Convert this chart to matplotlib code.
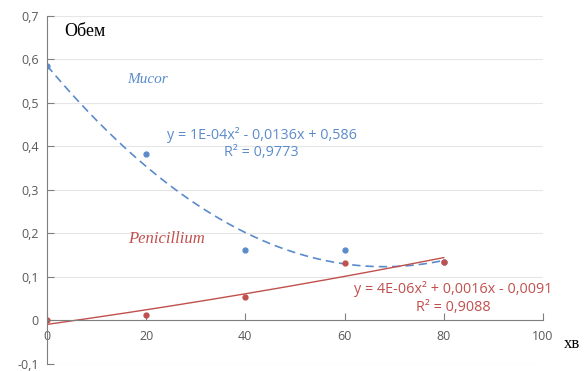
import numpy as np
import matplotlib.pyplot as plt

# measured points
time_min = [0, 20, 40, 60, 80]
mucor = [0.585, 0.382, 0.162, 0.162, 0.135]
penicillium = [0.002, 0.013, 0.053, 0.133, 0.135]

# trendline coefficients as shown on the chart (a, b, c)
mucor_fit = [1e-4, -0.0136, 0.586]
penicillium_fit = [4e-6, 0.0016, -0.0091]

x_ticks = [0, 20, 40, 60, 80, 100]
y_ticks = [-0.1, 0, 0.1, 0.2, 0.3, 0.4, 0.5, 0.6, 0.7]

blue = '#5b8bcb'
red = '#c0504d'
gray = '#595959'

fig = plt.figure(figsize=(5.87, 3.71), dpi=100)
ax = fig.add_axes([0.080, 0.019, 0.845, 0.938])

xs = np.linspace(0, 80, 200)
ax.plot(xs, np.polyval(mucor_fit, xs), color=blue, lw=1.2, ls=(0, (5, 3)))
ax.plot(xs, np.polyval(penicillium_fit, xs), color=red, lw=1.0)
ax.plot(time_min, mucor, 'o', color=blue, ms=3.5)
ax.plot(time_min, penicillium, 'o', color=red, ms=3.5)

ax.set_xlim(0, 100)
ax.set_ylim(-0.1, 0.7)
ax.set_xticks(x_ticks)
ax.set_yticks(y_ticks)
ax.set_yticklabels([('%.1f' % v).replace('.', ',') if v != 0 else '0' for v in y_ticks])
ax.grid(axis='y', color='#e6e6e6', lw=0.8)
ax.set_axisbelow(True)

ax.spines['bottom'].set_position(('data', 0))
ax.spines['top'].set_visible(False)
ax.spines['right'].set_visible(False)
ax.spines['left'].set_color('#7f7f7f')
ax.spines['bottom'].set_color('#7f7f7f')
ax.tick_params(axis='x', direction='in', length=5, color='#7f7f7f', labelcolor=gray,
               labelsize=9, pad=7)
ax.tick_params(axis='y', direction='in', length=5, color='#7f7f7f', labelcolor=gray,
               labelsize=9, pad=6)
for lab in ax.get_xticklabels() + ax.get_yticklabels():
    lab.set_family('Open Sans')

eq = dict(fontsize=10.4, family='Open Sans', ha='center', va='center')
ax.text(104.3, -0.055, 'хв', fontsize=12, family='Liberation Serif', ha='left', va='center')
ax.text(3.4, 0.664, 'Обем', fontsize=13, family='Liberation Serif', ha='left', va='center')
ax.text(20.2, 0.553, 'Mucor', fontsize=11, family='Liberation Serif', style='italic',
        color=blue, ha='center', va='center')
ax.text(24.0, 0.188, 'Penicillium', fontsize=12, family='Liberation Serif', style='italic',
        color=red, ha='center', va='center')
ax.text(43.3, 0.427, 'y = 1E-04x² - 0,0136x + 0,586', color=blue, **eq)
ax.text(43.3, 0.385, 'R² = 0,9773', color=blue, **eq)
ax.text(81.9, 0.072, 'y = 4E-06x² + 0,0016x - 0,0091', color=red, **eq)
ax.text(81.9, 0.030, 'R² = 0,9088', color=red, **eq)

fig.savefig('out.png', dpi=100)
